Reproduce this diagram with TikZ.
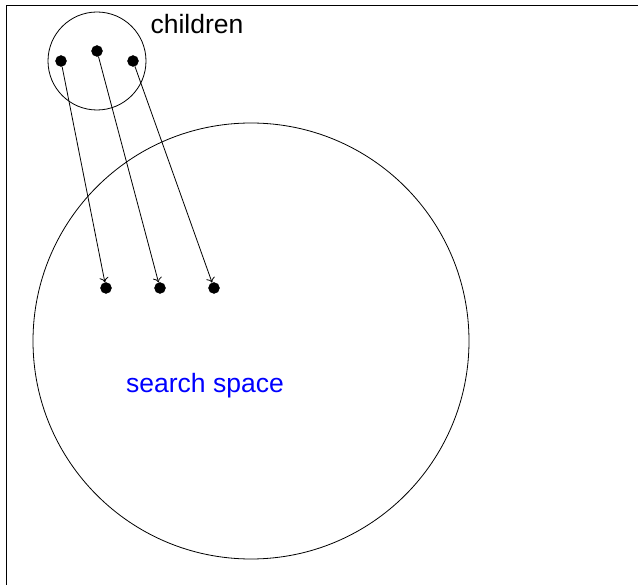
\documentclass[tikz,border=0pt]{standalone}
\usepackage{fontspec}
\setmainfont{Liberation Sans}
\usetikzlibrary{arrows.meta}
\begin{document}
\begin{tikzpicture}[x=1pt,y=-1pt,
  dot/.style={circle,fill=black,draw=black,inner sep=0pt,minimum size=11pt},
  ring/.style={circle,draw=black,line width=0.8pt,inner sep=0pt},
  arr/.style={-{To[length=5pt,width=9pt]},line width=0.8pt},
  lbl/.style={font=\fontsize{26.5}{30}\selectfont,inner sep=0pt}]
\useasboundingbox (0,0) rectangle (638,585);
\draw[line width=1pt] (6,585) -- (6,6) -- (638,6);
\node[ring,minimum size=98pt] (small) at (97,61) {};
\node[ring,minimum size=436pt] (big) at (251,341) {};
\node[dot] (c1) at (61,61) {};
\node[dot] (c2) at (97,51) {};
\node[dot] (c3) at (133,61) {};
\node[dot] (s1) at (106,288) {};
\node[dot] (s2) at (160,288) {};
\node[dot] (s3) at (214,288) {};
\draw[arr] (c1) -- (s1);
\draw[arr] (c2) -- (s2);
\draw[arr] (c3) -- (s3);
\node[lbl] (ch) at (197,24) {children};
\node[lbl,text=blue] (ss) at (205,386) {search space};
\end{tikzpicture}
\end{document}
